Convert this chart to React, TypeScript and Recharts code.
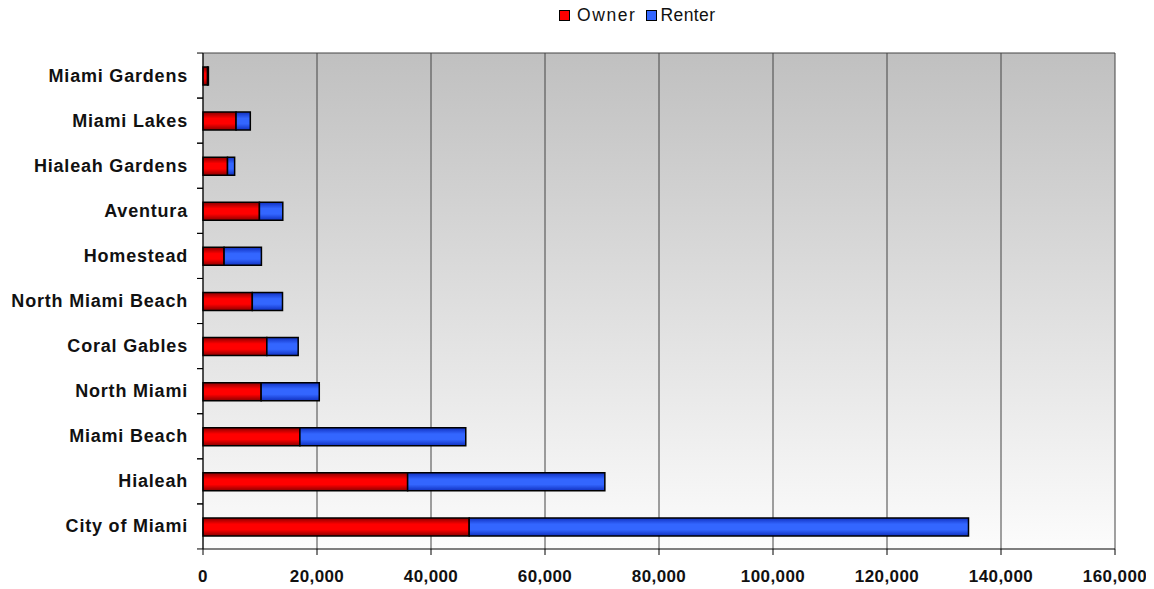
import React from 'react';
import { BarChart, Bar, XAxis, YAxis, CartesianGrid } from 'recharts';

const cities = [
  'Miami Gardens',
  'Miami Lakes',
  'Hialeah Gardens',
  'Aventura',
  'Homestead',
  'North Miami Beach',
  'Coral Gables',
  'North Miami',
  'Miami Beach',
  'Hialeah',
  'City of Miami',
];
const owner = [800, 5800, 4300, 9900, 3700, 8650, 11200, 10200, 17000, 35900, 46700];
const renter = [150, 2500, 1250, 4100, 6550, 5300, 5500, 10200, 29100, 34600, 87600];
const xTicks = [0, 20000, 40000, 60000, 80000, 100000, 120000, 140000, 160000];

const data = cities.map((city, i) => ({ city, owner: owner[i], renter: renter[i] }));

const font = '"Liberation Sans", Arial, sans-serif';

const CityTick = (props: any) => {
  const { x, y, payload } = props;
  const half = 22.5;
  return (
    <g>
      <line x1={x + 2} x2={x + 8} y1={y - half} y2={y - half} stroke="#000" />
      <line x1={x + 2} x2={x + 8} y1={y + half} y2={y + half} stroke="#000" />
      <text
        x={x - 7}
        y={y}
        dy={6}
        textAnchor="end"
        fontFamily={font}
        fontWeight="bold"
        fontSize={18}
        letterSpacing={0.8}
        fill="#111"
      >
        {payload.value}
      </text>
    </g>
  );
};

const App: React.FC = () => {
  return (
    <div style={{ position: 'relative', width: 1138, height: 581, fontFamily: font }}>
      <div
        style={{
          position: 'absolute',
          top: 0,
          left: 551,
          height: 15,
          display: 'flex',
          alignItems: 'center',
          fontSize: 17.5,
          color: '#111',
          whiteSpace: 'nowrap',
        }}
      >
        <span style={{ width: 9, height: 9, background: '#ff0000', border: '1px solid #000', display: 'inline-block', marginRight: 7 }} />
        <span style={{ marginRight: 9, letterSpacing: 1.6 }}>Owner</span>
        <span style={{ width: 9, height: 9, background: '#3366ff', border: '1px solid #000', display: 'inline-block', marginRight: 4 }} />
        <span style={{ letterSpacing: 0.4 }}>Renter</span>
      </div>
      <BarChart
        width={1138}
        height={581}
        data={data}
        layout="vertical"
        margin={{ top: 45, right: 31, bottom: 0, left: 0 }}
        barSize={18}
        style={{ overflow: 'visible' }}
      >
        <defs>
          <linearGradient id="plotBg" x1="0" y1="0" x2="0" y2="1">
            <stop offset="0%" stopColor="#c0c0c0" />
            <stop offset="100%" stopColor="#fcfcfc" />
          </linearGradient>
          <linearGradient id="redBar" x1="0" y1="0" x2="0" y2="1">
            <stop offset="0%" stopColor="#8a0000" />
            <stop offset="35%" stopColor="#ff0000" />
            <stop offset="65%" stopColor="#ff0000" />
            <stop offset="100%" stopColor="#8a0000" />
          </linearGradient>
          <linearGradient id="blueBar" x1="0" y1="0" x2="0" y2="1">
            <stop offset="0%" stopColor="#1030c0" />
            <stop offset="35%" stopColor="#3366ff" />
            <stop offset="65%" stopColor="#3366ff" />
            <stop offset="100%" stopColor="#1030c0" />
          </linearGradient>
        </defs>
        <CartesianGrid
          fill="url(#plotBg)"
          fillOpacity={1}
          stroke="#444"
          horizontalCoordinatesGenerator={({ offset }: any) => [offset.top]}
        />
        <XAxis
          type="number"
          domain={[0, 160000]}
          ticks={xTicks}
          tickFormatter={(v: number) => v.toLocaleString('en-US')}
          tick={{ fontFamily: font, fontWeight: 'bold', fontSize: 17, fill: '#111', letterSpacing: 0.4 }}
          tickSize={6}
          tickMargin={15}
          stroke="#000"
          height={40}
          interval={0}
        />
        <YAxis
          type="category"
          dataKey="city"
          width={195}
          tick={<CityTick />}
          tickLine={false}
          stroke="#000"
          interval={0}
        />
        <Bar dataKey="owner" stackId="a" fill="url(#redBar)" stroke="#000" strokeWidth={1.5} isAnimationActive={false} />
        <Bar dataKey="renter" stackId="a" fill="url(#blueBar)" stroke="#000" strokeWidth={1.5} isAnimationActive={false} />
      </BarChart>
    </div>
  );
};

export default App;
